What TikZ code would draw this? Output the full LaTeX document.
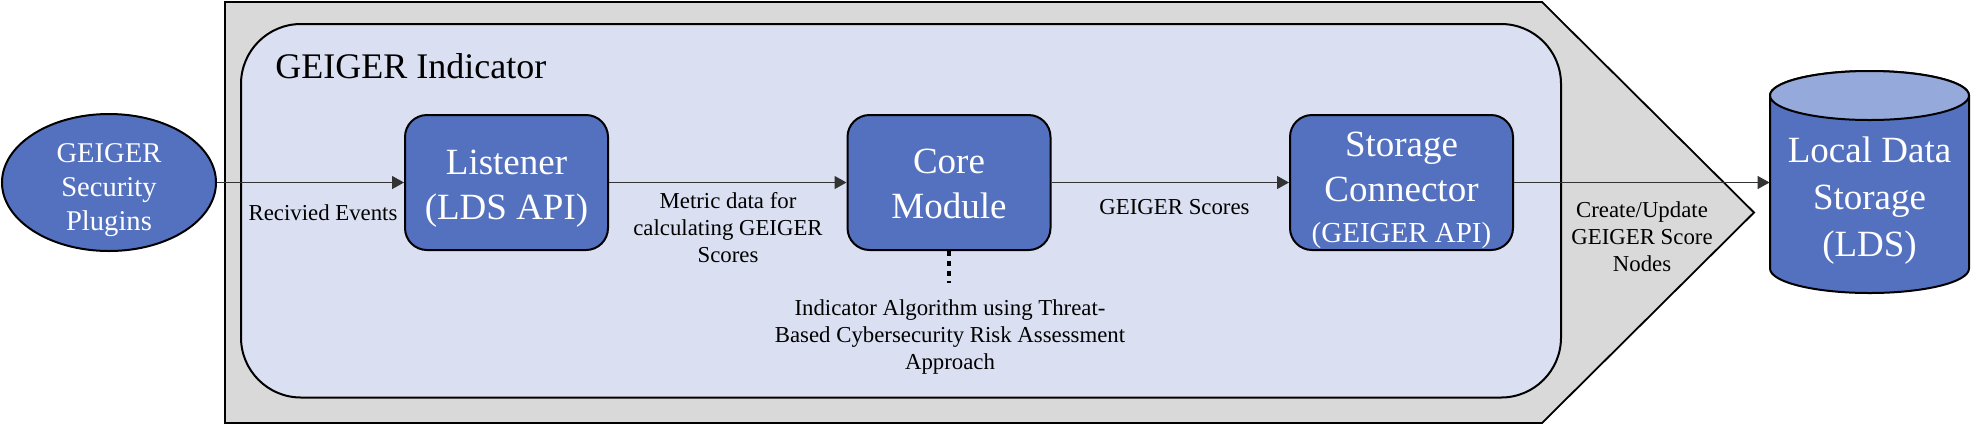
\documentclass[tikz,border=0pt]{standalone}
\usepackage{fontspec}
\setmainfont{Liberation Serif}
\usetikzlibrary{shapes.geometric,arrows.meta}
\definecolor{boxblue}{HTML}{5471C0}
\definecolor{innerfill}{HTML}{DAE0F1}
\definecolor{outerfill}{HTML}{D9D9D9}
\definecolor{cyltop}{HTML}{95A9DA}
\begin{document}
\begin{tikzpicture}[x=0.5pt,y=-0.5pt,
  blockbox/.style={draw=black, line width=1pt, fill=boxblue, rounded corners=11pt,
    minimum width=101.5pt, minimum height=67.5pt, inner sep=0pt},
  blocktext/.style={text=white, align=center, inner sep=0pt,
    font=\fontsize{18.5pt}{22.5pt}\selectfont},
  lbl/.style={align=center, font=\fontsize{11.4pt}{13.5pt}\selectfont, inner sep=0pt},
  flow/.style={draw=black!80, line width=0.6pt, -{Triangle[length=6pt,width=6.5pt]}}]
\useasboundingbox (0,0) rectangle (1985,425);
% outer pentagon
\draw[fill=outerfill, line width=0.9pt] (225,2) -- (1542,2) -- (1754,212.5) -- (1542,423) -- (225,423) -- cycle;
% inner rounded rectangle
\draw[fill=innerfill, line width=1pt, rounded corners=30pt] (241,24) rectangle (1561,397.5);
\node[anchor=base west, inner sep=0pt, font=\fontsize{18pt}{22pt}\selectfont] (title) at (275,78.5) {GEIGER Indicator};
% plugins ellipse
\node[ellipse, draw, line width=1pt, fill=boxblue, minimum width=107pt, minimum height=68.5pt,
  inner sep=0pt] (plug) at (109,182.5) {};
\node[text=white, align=center, inner sep=0pt, font=\fontsize{14.3pt}{17pt}\selectfont]
  (plugtext) at ([yshift=-4pt]plug.center) {GEIGER\\Security\\Plugins};
% blocks
\node[blockbox] (list) at (506.5,182.5) {};
\node[blocktext] (listtext) at ([yshift=-3pt]list.center) {Listener\\(LDS API)};
\node[blockbox] (core) at (949,182.5) {};
\node[blocktext] (coretext) at ([yshift=-0.5pt]core.center) {Core\\Module};
\node[blockbox, minimum width=111.5pt] (stor) at (1401.5,182.5) {};
\node[blocktext] (stortext) at ([yshift=-4pt]stor.center) {Storage\\Connector\\[-2pt]{\fontsize{14.5pt}{17pt}\selectfont (GEIGER API)}};
% cylinder
\draw[line width=1pt, fill=boxblue] (1770,95.5) -- (1770,268.5)
  arc[start angle=180, end angle=360, x radius=49.75pt, y radius=12.25pt]
  -- (1969,95.5)
  arc[start angle=0, end angle=180, x radius=49.75pt, y radius=12.25pt] -- cycle;
\draw[line width=1pt, fill=cyltop] (1869.5,95.5) ellipse [x radius=49.75pt, y radius=12.25pt];
\node[minimum width=99.5pt, inner sep=0pt, text=white, align=center,
  font=\fontsize{18.5pt}{23.5pt}\selectfont] (lds) at (1869.5,200.5) {Local Data\\Storage\\(LDS)};
% connectors
\draw[flow] (plug.east) -- (list.west);
\draw[flow] (list.east) -- (core.west);
\draw[flow] (core.east) -- (stor.west);
\draw[flow] (stor.east) -- (stor.east -| lds.west);
\coordinate (dotend) at ([yshift=-16pt]core.south);
\draw[line width=2.3pt, dash pattern=on 2.5pt off 2.5pt] (core.south) -- (dotend);
% labels
\node[lbl] (l1) at (323,213) {Recivied Events};
\node[lbl] (l2) at (728,228) {Metric data for\\calculating GEIGER\\Scores};
\node[lbl] (l3) at (1174.5,207.5) {GEIGER Scores};
\node[lbl] (l4) at (1642,236.5) {Create/Update\\GEIGER Score\\Nodes};
\node[lbl] (l5) at (950,337) {Indicator Algorithm using Threat-\\Based Cybersecurity Risk Assessment\\Approach};
\end{tikzpicture}
\end{document}
